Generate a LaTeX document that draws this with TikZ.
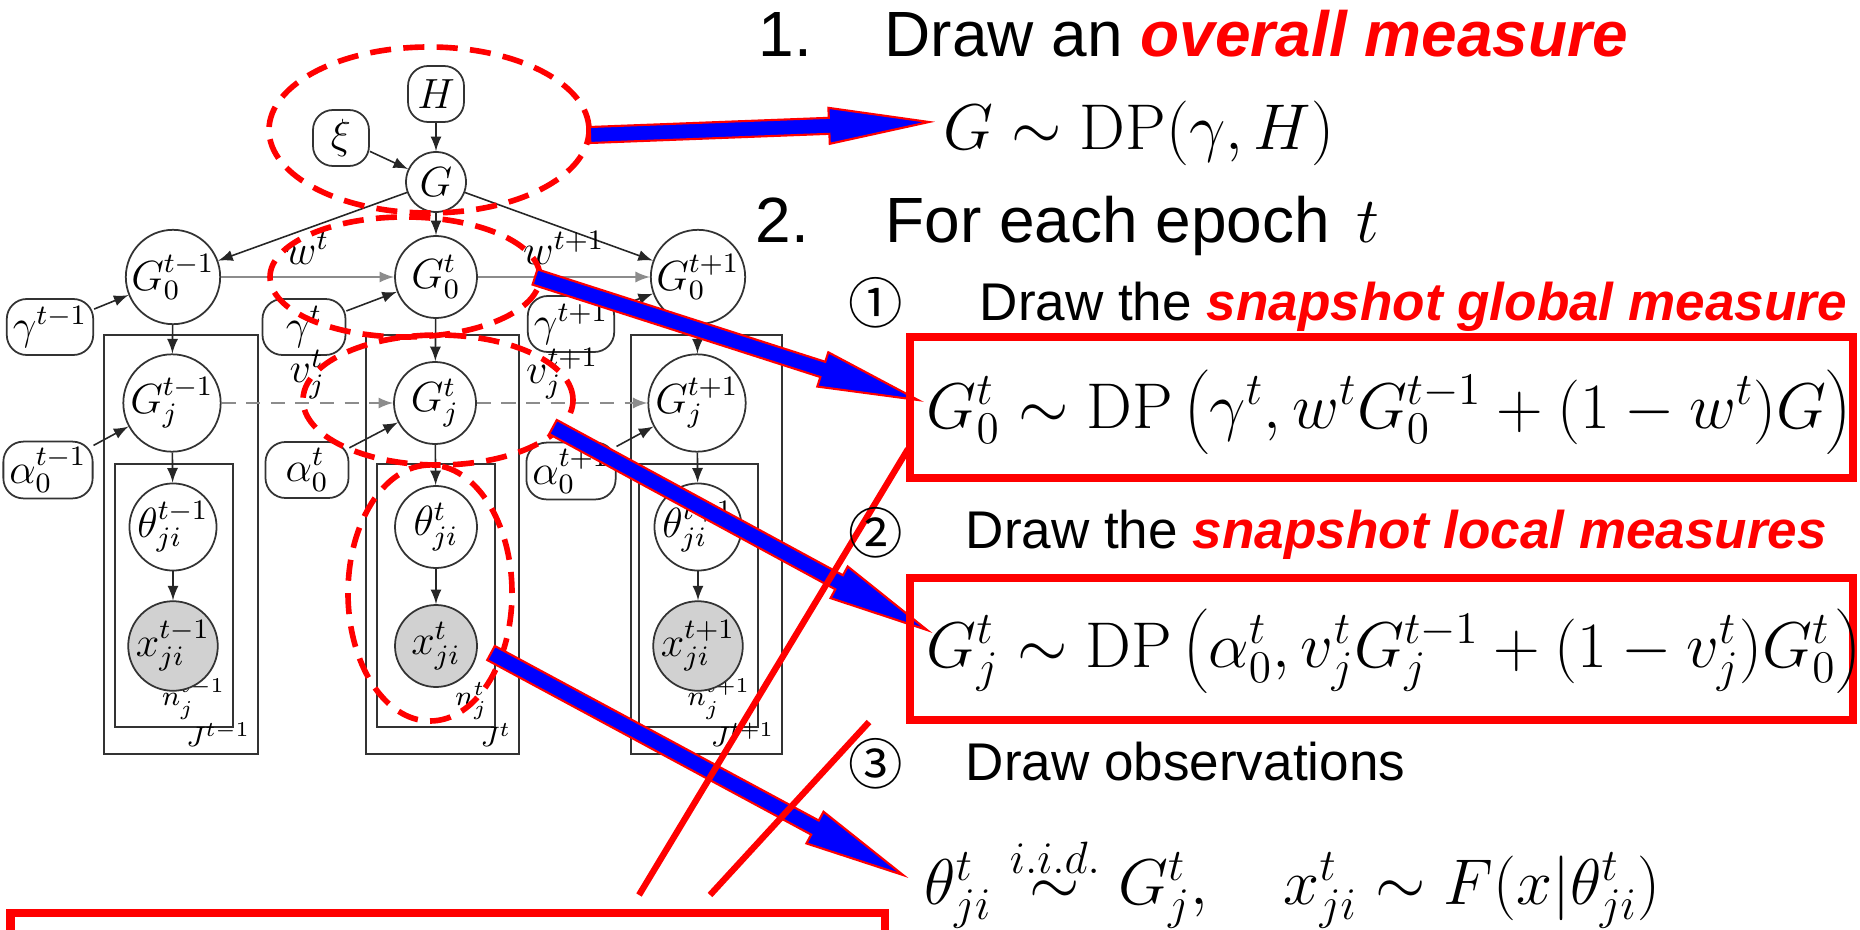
\RequirePackage{fix-cm}
\documentclass[tikz,border=0pt]{standalone}
\usepackage[no-math]{fontspec}
\setmainfont{Liberation Sans}
\newfontfamily\circfont{Noto Sans CJK SC}
\usetikzlibrary{calc}

% big blue arrow with red rim, from #1 to #2
\newcommand{\fatarrow}[2]{%
  \coordinate (hb) at ($(#2)!1cm!(#1)$);
  \filldraw[fill=blue, draw=red, line width=0.6pt]
    ($(#1)!0.08cm!90:(#2)$) -- ($(hb)!0.08cm!90:(#2)$) -- ($(hb)!0.18cm!90:(#2)$)
    -- (#2) -- ($(hb)!0.18cm!-90:(#2)$) -- ($(hb)!0.08cm!-90:(#2)$)
    -- ($(#1)!0.08cm!-90:(#2)$) -- cycle;}

\tikzset{
  var/.style={circle, draw=black!80, line width=0.5pt, minimum size=0.82cm, inner sep=0pt, font=\large},
  obs/.style={var, fill=black!18},
  hyper/.style={rectangle, rounded corners=0.2cm, draw=black!80, line width=0.5pt,
    minimum width=0.56cm, minimum height=0.56cm, inner sep=0.06cm, font=\large},
  hyperw/.style={hyper, minimum width=0.83cm},
  link/.style={-latex, black!85, line width=0.45pt},
  glink/.style={link, black!45},
  dlink/.style={link, black!45, dash pattern=on 4pt off 3pt},
  elabel/.style={above, text=black, font=\large},
  plate/.style={draw=black!80, line width=0.5pt},
  platelabel/.style={anchor=south east, inner sep=2pt, font=\large},
  hilite/.style={red, line width=1.6pt, dash pattern=on 6pt off 3.5pt},
  redbox/.style={draw=red, line width=2.3pt},
  callout/.style={red, line width=1.8pt},
  headline/.style={anchor=base west, inner sep=0pt, font=\fontsize{18.2}{22}\selectfont},
  subline/.style={anchor=base west, inner sep=0pt, font=\fontsize{15.1}{18}\selectfont},
  formula/.style={anchor=base west, inner sep=0pt, font=\fontsize{18.4}{22}\selectfont},
  num/.style={inner sep=0pt, font=\circfont\fontsize{15.5}{18}\selectfont},
}

\begin{document}
\begin{tikzpicture}
  \clip (0,0) rectangle (18.6,9.29);

  % plates
  \draw[plate] (1.04,5.94) rectangle (2.58,1.75);
  \draw[plate] (1.15,4.65) rectangle (2.33,2.02);
  \draw[plate] (3.66,5.94) rectangle (5.19,1.75);
  \draw[plate] (3.77,4.65) rectangle (4.95,2.02);
  \draw[plate] (6.31,5.94) rectangle (7.82,1.75);
  \draw[plate] (6.39,4.65) rectangle (7.58,2.02);
  \node[platelabel] (na) at (2.33,2.02) {$\scriptstyle n_j^{t-1}$};
  \node[platelabel] (nb) at (4.95,2.02) {$\scriptstyle n_j^{t}$};
  \node[platelabel] (nc) at (7.58,2.02) {$\scriptstyle n_j^{t+1}$};
  \node[platelabel] (Ja) at (2.58,1.75) {$\scriptstyle J^{t-1}$};
  \node[platelabel] (Jb) at (5.19,1.75) {$\scriptstyle J^{t}$};
  \node[platelabel] (Jc) at (7.82,1.75) {$\scriptstyle J^{t+1}$};

  % nodes
  \node[hyper] (H) at (4.36,8.35) {$H$};
  \node[hyper] (xi) at (3.41,7.91) {$\xi$};
  \node[var, minimum size=0.6cm] (G) at (4.36,7.47) {$G$};

  \node[var] (G0a) at (1.73,6.52) {$G_0^{t-1}$};
  \node[var] (G0b) at (4.36,6.52) {$G_0^{t}$};
  \node[var] (G0c) at (6.98,6.52) {$G_0^{t+1}$};
  \node[hyperw] (ga) at (0.50,6.02) {$\gamma^{t-1}$};
  \node[hyperw] (gb) at (3.04,6.02) {$\gamma^{t}$};
  \node[hyperw] (gc) at (5.71,6.05) {$\gamma^{t+1}$};

  \node[var] (Gja) at (1.72,5.26) {$G_j^{t-1}$};
  \node[var] (Gjb) at (4.35,5.26) {$G_j^{t}$};
  \node[var] (Gjc) at (6.97,5.26) {$G_j^{t+1}$};
  \node[hyperw] (aa) at (0.48,4.59) {$\alpha_0^{t-1}$};
  \node[hyperw] (ab) at (3.07,4.59) {$\alpha_0^{t}$};
  \node[hyperw] (ac) at (5.71,4.58) {$\alpha_0^{t+1}$};

  \node[var] (tha) at (1.73,4.02) {$\theta_{ji}^{t-1}$};
  \node[var] (thb) at (4.36,4.02) {$\theta_{ji}^{t}$};
  \node[var] (thc) at (6.98,4.02) {$\theta_{ji}^{t+1}$};
  \node[obs] (xa) at (1.73,2.83) {$x_{ji}^{t-1}$};
  \node[obs] (xb) at (4.36,2.83) {$x_{ji}^{t}$};
  \node[obs] (xc) at (6.98,2.83) {$x_{ji}^{t+1}$};

  % edges
  \draw[link] (H) -- (G);
  \draw[link] (xi) -- (G);
  \draw[link] (G) -- (G0a);
  \draw[link] (G) -- (G0b);
  \draw[link] (G) -- (G0c);
  \draw[glink] (G0a) -- node[elabel] (wb) {$w^t$} (G0b);
  \draw[glink] (G0b) -- node[elabel] (wc) {$w^{t+1}$} (G0c);
  \draw[link] (ga) -- (G0a);
  \draw[link] (gb) -- (G0b);
  \draw[link] (gc) -- (G0c);
  \draw[link] (G0a) -- (Gja);
  \draw[link] (G0b) -- (Gjb);
  \draw[link] (G0c) -- (Gjc);
  \draw[dlink] (Gja) -- node[elabel, inner sep=1pt] (vb) {$v_j^t$} (Gjb);
  \draw[dlink] (Gjb) -- node[elabel, inner sep=1pt] (vc) {$v_j^{t+1}$} (Gjc);
  \draw[link] (aa) -- (Gja);
  \draw[link] (ab) -- (Gjb);
  \draw[link] (ac) -- (Gjc);
  \draw[link] (Gja) -- (tha);
  \draw[link] (Gjb) -- (thb);
  \draw[link] (Gjc) -- (thc);
  \draw[link] (tha) -- (xa);
  \draw[link] (thb) -- (xb);
  \draw[link] (thc) -- (xc);

  % red dashed marks
  \draw[hilite] (4.29,7.99) ellipse [x radius=1.60, y radius=0.83];
  \draw[hilite] (4.05,6.52) ellipse [x radius=1.35, y radius=0.60];
  \draw[hilite] (4.38,5.29) ellipse [x radius=1.35, y radius=0.65];
  \draw[hilite] (4.30,3.36) ellipse [x radius=0.82, y radius=1.28];

  % blue arrows
  \coordinate (a1s) at (5.90,7.94); \coordinate (a1t) at (9.29,8.07);
  \coordinate (a2s) at (5.35,6.52); \coordinate (a2t) at (9.18,5.29);
  \coordinate (a3s) at (5.53,5.02); \coordinate (a3t) at (9.27,2.99);
  \coordinate (a4s) at (4.91,2.76); \coordinate (a4t) at (9.03,0.54);
  \fatarrow{a1s}{a1t}
  \fatarrow{a2s}{a2t}
  \fatarrow{a3s}{a3t}
  \fatarrow{a4s}{a4t}

  % red lines and boxes
  \coordinate (cA1) at (9.08,4.80); \coordinate (cA2) at (6.39,0.34);
  \coordinate (cB1) at (8.69,2.07); \coordinate (cB2) at (7.10,0.34);
  \draw[callout] (cA1) -- (cA2);
  \draw[callout] (cB1) -- (cB2);
  \draw[redbox] (9.10,5.92) rectangle (18.53,4.51);
  \draw[redbox] (9.10,3.51) rectangle (18.53,2.09);
  \draw[redbox] (0.105,0.16) rectangle (8.85,-1);

  % text
  \node[headline] (s1n) at (7.58,8.72) {1.};
  \node[headline] (s1) at (8.84,8.72) {Draw an \textcolor{red}{\bfseries\itshape overall measure}};
  \node[formula] (f1) at (9.43,7.79) {$G \sim \mathrm{DP}(\gamma, H)$};
  \node[headline] (s2n) at (7.55,6.87) {2.};
  \node[headline] (s2) at (8.85,6.87) {For each epoch};
  \node[formula] (s2t) at (13.56,6.87) {$t$};
  \node[num] (c1) at (8.76,6.26) {①};
  \node[subline] (d1) at (9.79,6.09) {Draw the \textcolor{red}{\bfseries\itshape snapshot global measure}};
  \node[formula] (f2) at (9.26,5.01) {$G_0^t \sim \mathrm{DP}\left(\gamma^t, w^t G_0^{t-1} + (1-w^t)G\right)$};
  \node[num] (c2) at (8.76,3.96) {②};
  \node[subline] (d2) at (9.65,3.81) {Draw the \textcolor{red}{\bfseries\itshape snapshot local measures}};
  \node[formula] (f3) at (9.26,2.62) {$G_j^t \sim \mathrm{DP}\left(\alpha_0^t, v_j^t G_j^{t-1} + (1-v_j^t)G_0^t\right)$};
  \node[num] (c3) at (8.76,1.65) {③};
  \node[subline] (d3) at (9.65,1.49) {Draw observations};
  \node[formula] (f4) at (9.24,0.25) {$\theta_{ji}^t \stackrel{i.i.d.}{\sim} G_j^t, \quad x_{ji}^t \sim F(x|\theta_{ji}^t)$};
\end{tikzpicture}
\end{document}
